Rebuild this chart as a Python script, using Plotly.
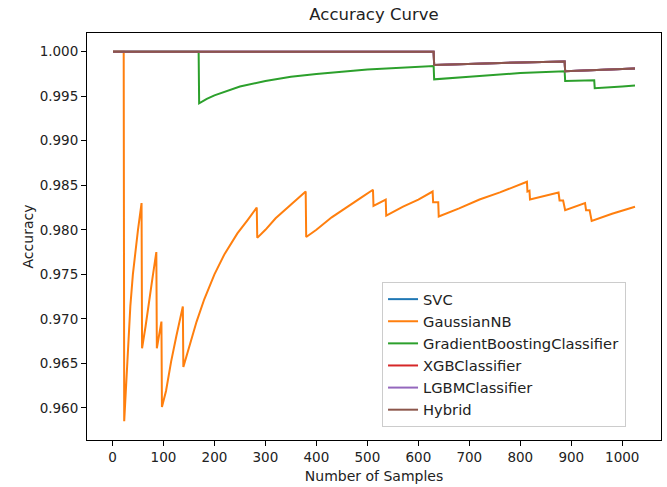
import plotly.graph_objects as go

# ---- data ----
# SVC, XGBClassifier, LGBMClassifier and Hybrid share the same curve
top_n = [1, 630, 631, 700, 800, 887, 888, 950, 1025]
top_acc = [1.0, 1.0, 0.9985, 0.99865, 0.9988, 0.9989, 0.9978, 0.99795, 0.9981]

gb_n = [1, 169, 170, 185, 200, 225, 250, 300, 350, 400, 500, 630, 631, 700, 800,
        887, 888, 945, 946, 1000, 1025]
gb_acc = [1.0, 1.0, 0.9942, 0.9947, 0.9951, 0.9956, 0.9961, 0.9967, 0.9972, 0.9975,
          0.9980, 0.9984, 0.9969, 0.9972, 0.9976, 0.9978, 0.9967, 0.9968, 0.9959,
          0.9961, 0.9962]

nb_n = [1, 22, 23, 26, 30, 35, 40, 45, 50, 57, 58, 65, 70, 78, 86, 87, 96, 97,
        105, 115, 125, 138, 139, 150, 165, 180, 200, 220, 245, 265, 283, 284,
        300, 320, 345, 379, 380, 400, 430, 460, 490, 511, 512, 536, 537, 570,
        600, 628, 629, 639, 640, 680, 720, 760, 813, 814, 818, 819, 875, 877,
        884, 888, 927, 929, 936, 940, 980, 1025]
nb_acc = [1.0, 1.0, 0.9585, 0.9615, 0.9667, 0.9714, 0.9750, 0.9778, 0.9800, 0.9830,
          0.9667, 0.9692, 0.9714, 0.9744, 0.9775, 0.9667, 0.9697, 0.9601,
          0.9619, 0.9652, 0.9680, 0.9714, 0.9646, 0.9667, 0.9697, 0.9722,
          0.9750, 0.9773, 0.9796, 0.9811, 0.9825, 0.9791,
          0.9800, 0.9813, 0.9826, 0.9843, 0.9792, 0.9800, 0.9814, 0.9826,
          0.9837, 0.9845, 0.9827, 0.9834, 0.9816, 0.9826,
          0.9834, 0.9843, 0.9831, 0.9831, 0.9815, 0.9824, 0.9834, 0.9842,
          0.9854, 0.9843, 0.9844, 0.9834, 0.9842, 0.9833,
          0.9833, 0.9822, 0.9830, 0.9822, 0.9822, 0.9810, 0.9818, 0.9826]

series_names = ["SVC", "GaussianNB", "GradientBoostingClassifier",
                "XGBClassifier", "LGBMClassifier", "Hybrid"]
series_colors = ["#1f77b4", "#ff7f0e", "#2ca02c", "#d62728", "#9467bd", "#8c564b"]
series_x = [top_n, nb_n, gb_n, top_n, top_n, top_n]
series_y = [top_acc, nb_acc, gb_acc, top_acc, top_acc, top_acc]

x_ticks = [0, 100, 200, 300, 400, 500, 600, 700, 800, 900, 1000]
y_ticks = [0.960, 0.965, 0.970, 0.975, 0.980, 0.985, 0.990, 0.995, 1.000]

FONT = "DejaVu Sans"
W, H = 667, 487

fig = go.Figure()
for name, color, xs, ys in zip(series_names, series_colors, series_x, series_y):
    fig.add_trace(go.Scatter(x=xs, y=ys, mode="lines", name=name,
                             line=dict(color=color, width=2)))

axis_common = dict(showline=True, linecolor="black", linewidth=1, mirror=True,
                   ticks="outside", ticklen=5, tickwidth=1, tickcolor="black",
                   showgrid=False, zeroline=False,
                   tickfont=dict(family=FONT, size=13.5, color="#222"))

fig.update_layout(
    width=W, height=H,
    margin=dict(l=87, r=6, t=33, b=47),
    paper_bgcolor="white", plot_bgcolor="white",
    font=dict(family=FONT, color="#222"),
    title=dict(text="Accuracy Curve", x=374 / W, xanchor="center",
               y=1 - 14 / H, yanchor="middle", yref="container",
               font=dict(family=FONT, size=16.5, color="#222")),
    xaxis=dict(range=[-50, 1076], tickvals=x_ticks,
               title=dict(text="Number of Samples", font=dict(family=FONT, size=14),
                          standoff=6),
               **axis_common),
    yaxis=dict(range=[0.9564, 1.0021], tickvals=y_ticks, tickformat=".3f",
               title=dict(text="Accuracy", font=dict(family=FONT, size=14),
                          standoff=2),
               **axis_common),
    legend=dict(x=0.514, y=0.388, xanchor="left", yanchor="top",
                bgcolor="white", bordercolor="#cccccc", borderwidth=1,
                font=dict(family=FONT, size=14.7, color="#222"),
                tracegroupgap=0),
    showlegend=True,
)

fig.write_html("out.html",
               config={"displayModeBar": False},
               post_script="document.body.style.margin='0';"
                           "document.body.style.padding='0';")
